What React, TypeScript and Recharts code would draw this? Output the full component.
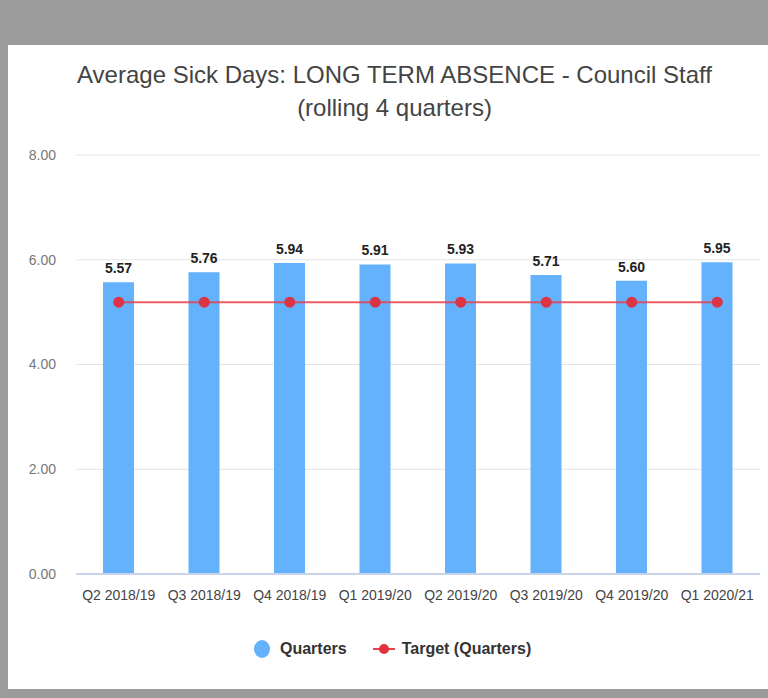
import React from "react";
import {
  ComposedChart,
  Bar,
  Line,
  XAxis,
  YAxis,
  CartesianGrid,
  LabelList,
} from "recharts";

const quarters = [
  "Q2 2018/19",
  "Q3 2018/19",
  "Q4 2018/19",
  "Q1 2019/20",
  "Q2 2019/20",
  "Q3 2019/20",
  "Q4 2019/20",
  "Q1 2020/21",
];
const quarterValues = [5.57, 5.76, 5.94, 5.91, 5.93, 5.71, 5.6, 5.95];
const targetValues = [5.19, 5.19, 5.19, 5.19, 5.19, 5.19, 5.19, 5.19];
const yTicks = [0, 2, 4, 6, 8];

const FONT = '"Liberation Sans", Arial, sans-serif';
const BAR = "#64b1fc";
const RED = "#e8414d";

const data = quarters.map((q, i) => ({
  name: q,
  quarters: quarterValues[i],
  target: targetValues[i],
}));

function ChartLegend() {
  return (
    <div
      style={{
        position: "absolute",
        left: 254,
        top: 639,
        display: "flex",
        alignItems: "center",
        fontFamily: FONT,
        fontSize: 16,
        fontWeight: "bold",
        color: "#333",
      }}
    >
      <svg width={18} height={20} style={{ marginRight: 8 }}>
        <ellipse cx={8} cy={10} rx={8} ry={9} fill={BAR} />
      </svg>
      <span>Quarters</span>
      <svg width={24} height={14} style={{ marginLeft: 26, marginRight: 5 }}>
        <line x1={0} y1={7} x2={22} y2={7} stroke={RED} strokeWidth={2} />
        <circle cx={11} cy={7} r={5} fill="#e2303f" />
      </svg>
      <span>Target (Quarters)</span>
    </div>
  );
}

export default function App() {
  return (
    <div
      style={{
        position: "absolute",
        left: 0,
        top: 0,
        width: 768,
        height: 698,
        background: "#fff",
        overflow: "hidden",
      }}
    >
      {/* frame */}
      <div style={{ position: "absolute", left: 0, top: 0, width: 768, height: 45, background: "#9b9b9b" }} />
      <div style={{ position: "absolute", left: 0, top: 0, width: 8, height: 698, background: "#9b9b9b" }} />
      <div style={{ position: "absolute", left: 0, top: 689, width: 768, height: 9, background: "#9b9b9b" }} />

      <div
        style={{
          position: "absolute",
          left: 0,
          top: 58,
          width: 789,
          textAlign: "center",
          fontFamily: FONT,
          fontSize: 24,
          lineHeight: "33px",
          color: "#444",
        }}
      >
        <div>Average Sick Days: LONG TERM ABSENCE - Council Staff</div>
        <div>(rolling 4 quarters)</div>
      </div>

      <div style={{ position: "absolute", left: 0, top: 130 }}>
        <ComposedChart
          width={768}
          height={484}
          data={data}
          margin={{ top: 25, right: 8, bottom: 0, left: 0 }}
          barSize={31}
        >
          <CartesianGrid vertical={false} stroke="#e4e4e4" />
          <XAxis
            dataKey="name"
            tick={{ fontSize: 14, fill: "#444", fontFamily: FONT }}
            axisLine={{ stroke: "#c9d3ea", strokeWidth: 2 }}
            tickLine={false}
            tickMargin={10}
            interval={0}
            height={40}
          />
          <YAxis
            domain={[0, 8]}
            ticks={yTicks}
            tickFormatter={(v) => Number(v).toFixed(2)}
            tick={{ fontSize: 14, fill: "#777", fontFamily: FONT }}
            axisLine={false}
            tickLine={false}
            tickSize={0}
            tickMargin={20}
            width={76}
          />
          <Bar dataKey="quarters" fill={BAR} isAnimationActive={false}>
            <LabelList
              dataKey="quarters"
              position="top"
              offset={9}
              formatter={(v: number) => Number(v).toFixed(2)}
              style={{ fontSize: 14, fontWeight: "bold", fill: "#222", fontFamily: FONT }}
            />
          </Bar>
          <Line
            dataKey="target"
            stroke={RED}
            strokeWidth={2}
            strokeOpacity={0.85}
            dot={{ r: 5.5, fill: "#dc3445", stroke: "none" }}
            activeDot={false}
            isAnimationActive={false}
          />
        </ComposedChart>
      </div>
      <ChartLegend />
    </div>
  );
}
